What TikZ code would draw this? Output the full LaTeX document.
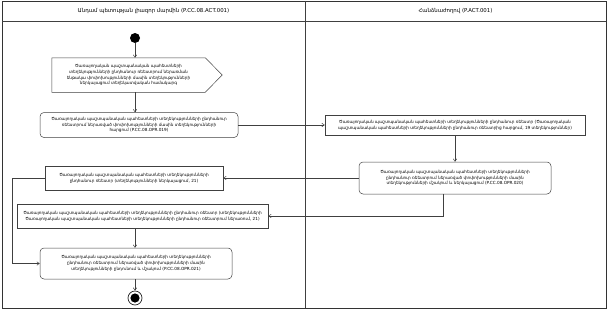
\documentclass[tikz,border=0pt]{standalone}
\usepackage{fontspec}
\setmainfont{DejaVu Sans}
\usetikzlibrary{arrows.meta,calc}
\begin{document}
\begin{tikzpicture}[x=1pt,y=-1pt,
  lin/.style={draw=black!75, line width=0.5pt},
  box/.style={lin, align=center, font=\fontsize{4.2}{5.8}\selectfont, inner sep=0pt},
  actbox/.style={box, rounded corners=4pt},
  objbox/.style={box},
  hdr/.style={font=\fontsize{5.4}{6}\selectfont, inner sep=0pt},
  conn/.style={lin, -{Straight Barb[length=2.5pt,width=3.5pt]}}]
\useasboundingbox (0,0) rectangle (612,313);
% frame and lanes
\draw[draw=black!80, line width=0.7pt] (2,1) rectangle (606,308);
\draw[lin] (2,21) -- (606,21);
\draw[lin] (305,1) -- (305,308);
\node[hdr] (h1) at (153.5,11) {Անդամ պետության լիազոր մարմին (P.CC.08.ACT.001)};
\node[hdr] (h2) at (455.5,11) {Հանձնաժողով (P.ACT.001)};
% start
\node[circle, fill=black, minimum size=10pt, inner sep=0pt] (start) at (135,38) {};
% B1 send signal
\node[box, draw=none, minimum width=153, minimum height=34] (B1) at (128.5,75)
 {Ծառայողական պաշտպանական պահեստների\\
  տեղեկությունների ընդհանուր ռեեստրում ներառման\\
  ենթակա փոփոխությունների մասին տեղեկությունների\\
  ներկայացում տեղեկատվական համակարգ};
\draw[lin] (B1.north west) -- (B1.north east) -- ($(B1.east)+(17,0)$) -- (B1.south east) -- (B1.south west) -- cycle;
% B2
\node[actbox, minimum width=198, minimum height=25] (B2) at (139,125)
 {Ծառայողական պաշտպանական պահեստների տեղեկությունների ընդհանուր\\
  ռեեստրում ներառված փոփոխությունների մասին տեղեկությունների\\
  հարցում (P.CC.08.OPR.019)};
% R1
\node[objbox, minimum width=260, minimum height=20] (R1) at (455,125)
 {Ծառայողական պաշտպանական պահեստների տեղեկությունների ընդհանուր ռեեստր (Ծառայողական\\
  պաշտպանական պահեստների տեղեկությունների ընդհանուր ռեեստրից հարցում, 19 տեղեկություններ)};
% R2
\node[actbox, minimum width=192, minimum height=32] (R2) at (455,178)
 {Ծառայողական պաշտպանական պահեստների տեղեկությունների\\
  ընդհանուր ռեեստրում ներառված փոփոխությունների մասին\\
  տեղեկությունների մշակում և ներկայացում (P.CC.08.OPR.020)};
% L3
\node[objbox, minimum width=178, minimum height=24] (L3) at (134,178)
 {Ծառայողական պաշտպանական պահեստների տեղեկությունների\\
  ընդհանուր ռեեստր (տեղեկությունների ներկայացում, 21)};
% L4
\node[objbox, minimum width=251, minimum height=24] (L4) at (142.5,216)
 {Ծառայողական պաշտպանական պահեստների տեղեկությունների ընդհանուր ռեեստր (տեղեկությունների\\
  Ծառայողական պաշտպանական պահեստների տեղեկությունների ընդհանուր ռեեստրում ներառում, 21)};
% L5
\node[actbox, minimum width=192, minimum height=31] (L5) at (136,263.5)
 {Ծառայողական պաշտպանական պահեստների տեղեկությունների\\
  ընդհանուր ռեեստրում ներառված փոփոխությունների մասին\\
  տեղեկությունների ընդունում և մշակում (P.CC.08.OPR.021)};
% end
\node[circle, draw=black!85, line width=0.7pt, minimum size=14pt, inner sep=0pt,
  path picture={\fill[black] (path picture bounding box.center) circle (4.6pt);}] (fin) at (135,298) {};
\coordinate (lft) at (12,0);
% connectors
\draw[conn] (start) -- (start |- B1.north);
\draw[conn] (B1.south -| start) -- (B2.north -| start);
\draw[conn] (B2.east) -- (R1.west);
\draw[conn] (R1.south) -- (R2.north);
\draw[conn] (R2.west) -- (L3.east);
\draw[conn] ([xshift=-12pt]R2.south) |- (L4.east);
\draw[conn] (L3.west) -- (L3.west -| lft) |- (L5.west);
\draw[conn] (L4.south -| start) -- (L5.north -| start);
\draw[conn] (L5.south -| fin) -- (fin);
\end{tikzpicture}
\end{document}
